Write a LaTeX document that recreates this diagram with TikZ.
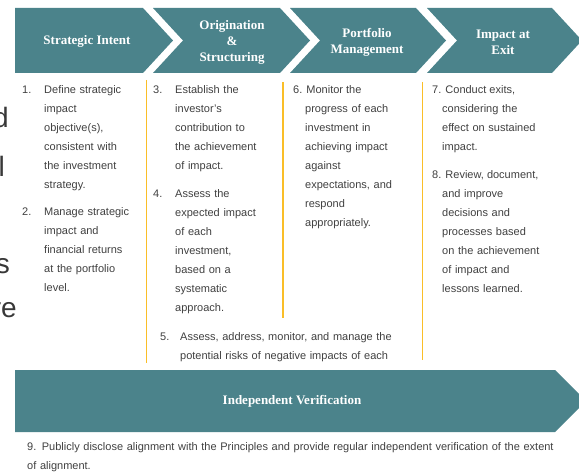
\documentclass[tikz,border=0pt]{standalone}
\usepackage{fontspec}
\setmainfont{Liberation Sans}
\newfontfamily\hdfont{Liberation Serif}
\definecolor{tealband}{RGB}{75,131,139}
\definecolor{goldline}{RGB}{250,190,40}
\definecolor{txtgray}{RGB}{64,64,64}
\begin{document}
\begin{tikzpicture}[x=1pt,y=-1pt,
  band/.style={fill=tealband, draw=none},
  head/.style={text=white, font=\hdfont\bfseries\fontsize{13}{16}\selectfont, align=center, inner sep=0pt},
  sepline/.style={draw=goldline, line width=1.3pt},
  num/.style={anchor=base west, inner sep=0pt, text=txtgray, font=\fontsize{11}{19}\selectfont},
  body/.style={anchor=base west, inner sep=0pt, text=txtgray, font=\fontsize{11}{19}\selectfont, align=left, text width=#1},
  body/.default=300pt,
  frag/.style={anchor=base east, inner sep=0pt, text=black!78, font=\fontsize{28}{30}\selectfont}]
\useasboundingbox (0,0) rectangle (579,476);
\clip (0,0) rectangle (579,476);

% header chevrons
\fill[band] (15,8) -- (143,8) -- (173,40.5) -- (143,73) -- (15,73) -- cycle;
\fill[band] (153,8) -- (280,8) -- (310,40.5) -- (280,73) -- (153,73) -- (183,40.5) -- cycle;
\fill[band] (290,8) -- (416,8) -- (446,40.5) -- (416,73) -- (290,73) -- (320,40.5) -- cycle;
\fill[band] (427,8) -- (552,8) -- (582,40.5) -- (552,73) -- (427,73) -- (457,40.5) -- cycle;
\node[head] (h1) at (87,41) {Strategic Intent};
\node[head] (h2) at (232,42) {Origination\\\&\\Structuring};
\node[head] (h3) at (367,42) {Portfolio\\Management};
\node[head] (h4) at (503,42) {Impact at\\Exit};

% separators
\coordinate (s2a) at (146.5,80); \coordinate (s2b) at (146.5,363);
\coordinate (s3a) at (283,82); \coordinate (s3b) at (283,318);
\coordinate (s4a) at (422.5,82); \coordinate (s4b) at (422.5,360);
\draw[sepline] (s2a) -- (s2b);
\draw[sepline] (s3a) -- (s3b);
\draw[sepline] (s4a) -- (s4b);

% column 1
\node[num] (n1) at (22,94) {1.};
\node[body] (t1) at (44,94) {Define strategic\\impact\\objective(s),\\consistent with\\the investment\\strategy.};
\node[num] (n2) at (22,216) {2.};
\node[body] (t2) at (44,216) {Manage strategic\\impact and\\financial returns\\at the portfolio\\level.};

% column 2
\node[num] (n3) at (153,94) {3.};
\node[body] (t3) at (175,94) {Establish the\\investor's\\contribution to\\the achievement\\of impact.};
\node[num] (n4) at (153,198) {4.};
\node[body] (t4) at (175,198) {Assess the\\expected impact\\of each\\investment,\\based on a\\systematic\\approach.};

% column 3
\node[num] (n6) at (293,94) {6. Monitor the};
\node[body] (t6) at (305,113) {progress of each\\investment in\\achieving impact\\against\\expectations, and\\respond\\appropriately.};

% column 4
\node[num] (n7) at (432,94) {7. Conduct exits,};
\node[body] (t7) at (442,113) {considering the\\effect on sustained\\impact.};
\node[num] (n8) at (432,179) {8. Review, document,};
\node[body] (t8) at (442,198) {and improve\\decisions and\\processes based\\on the achievement\\of impact and\\lessons learned.};

% item 5
\node[num] (n5) at (160,340) {5.};
\node[body] (t5) at (180,340) {Assess, address, monitor, and manage the\\potential risks of negative impacts of each};

% bottom banner
\fill[band] (15,370) -- (555,370) -- (586,401) -- (555,432) -- (15,432) -- cycle;
\node[head] (hv) at (292,401) {Independent Verification};

% item 9
\node[body=560pt] (t9) at (27,450) {9. Publicly disclose alignment with the Principles and provide regular independent verification of the extent\\of alignment.};

% clipped fragments at left edge
\node[frag] (fd) at (9,128) {d};
\node[frag] (fl) at (5,177) {l};
\node[frag] (fs) at (10,273) {s};
\node[frag] (fre) at (17,317) {re};
\end{tikzpicture}
\end{document}
